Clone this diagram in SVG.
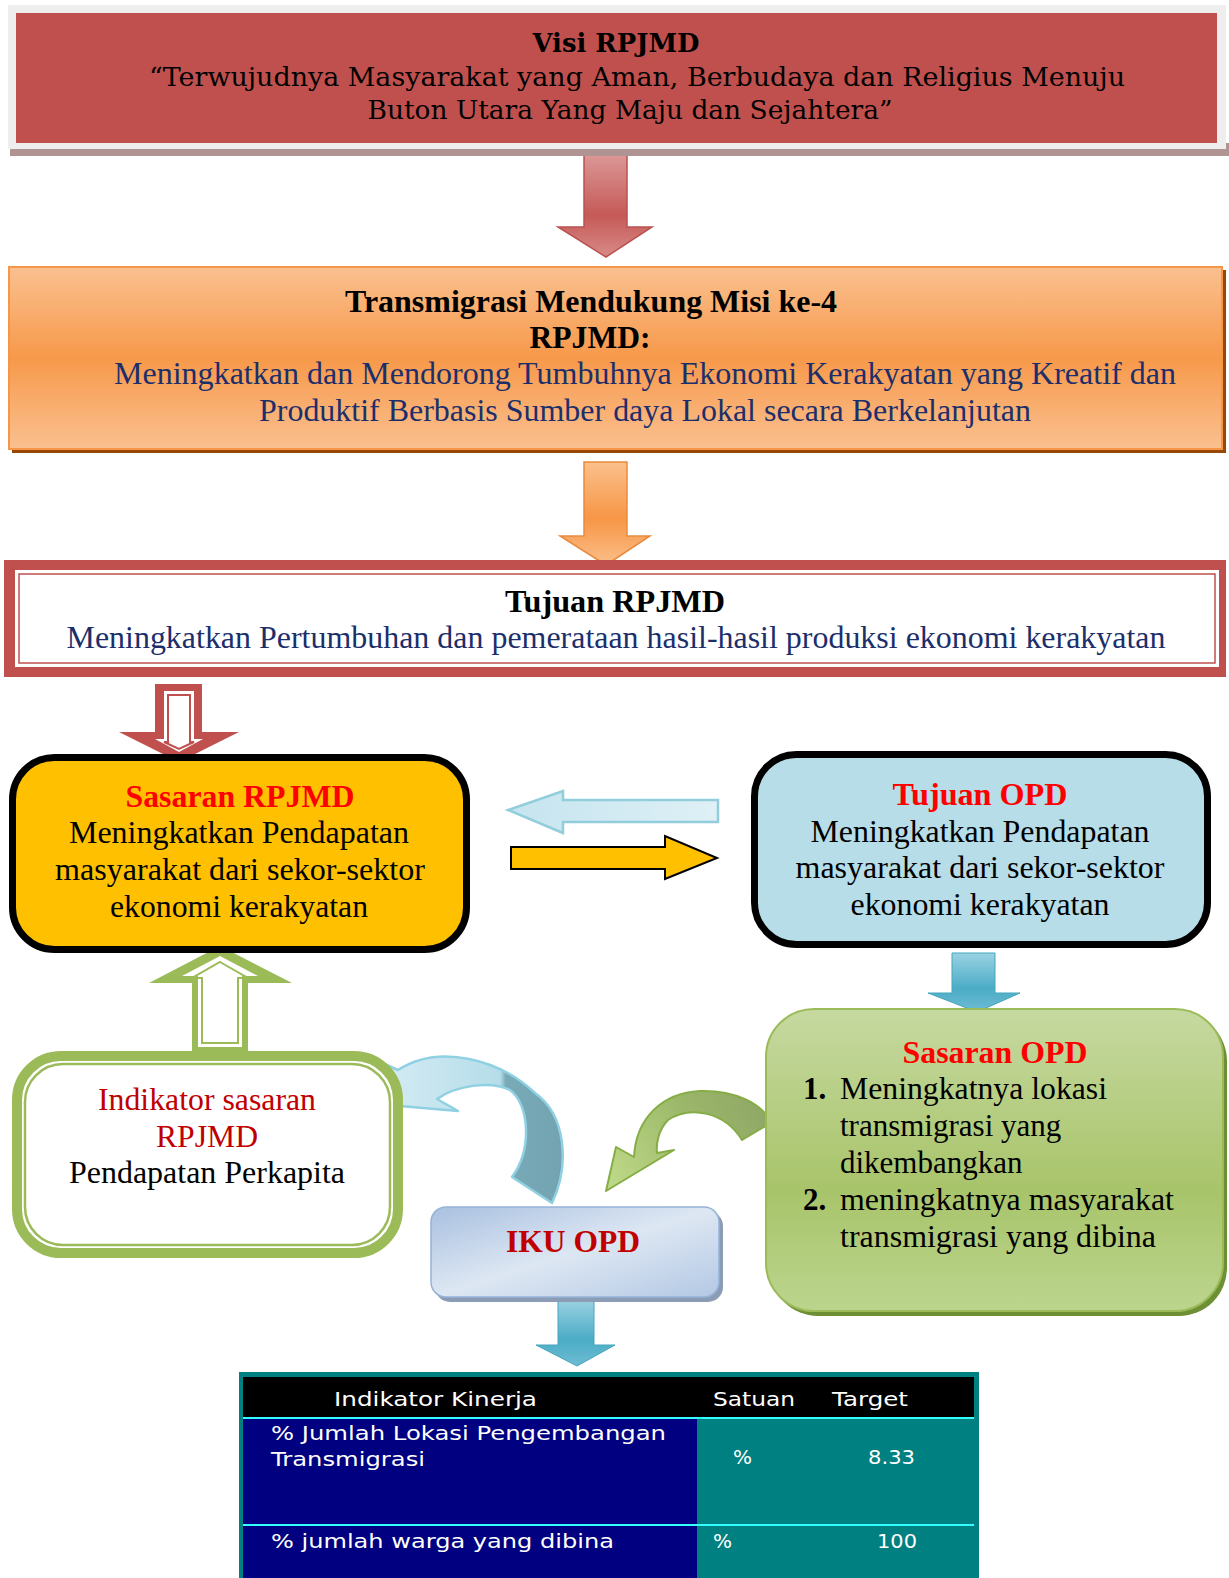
<svg xmlns="http://www.w3.org/2000/svg" width="1229" height="1578" viewBox="0 0 1229 1578">
<defs>
<style>
.serif{font-family:"Liberation Serif","Times New Roman",serif;}
.book{font-family:"DejaVu Serif","Liberation Serif",serif;}
.sans{font-family:"DejaVu Sans","Liberation Sans",sans-serif;fill:#ffffff;font-size:20px;}
.b{font-weight:bold;}
.navy{fill:#1c2f6b;}
.red{fill:#ff0000;}
.dred{fill:#c00000;}
.t30{font-size:31px;}
</style>
<linearGradient id="gOrange" x1="0" y1="0" x2="0" y2="1">
<stop offset="0" stop-color="#fac090"/><stop offset="0.5" stop-color="#f7994a"/><stop offset="1" stop-color="#fac090"/>
</linearGradient>
<linearGradient id="gRedArrow" x1="0" y1="0" x2="0" y2="1">
<stop offset="0" stop-color="#dc9998"/><stop offset="0.6" stop-color="#c55a57"/><stop offset="1" stop-color="#d88a88"/>
</linearGradient>
<linearGradient id="gOrArrow" x1="0" y1="0" x2="0" y2="1">
<stop offset="0" stop-color="#fbc08c"/><stop offset="0.55" stop-color="#f79646"/><stop offset="1" stop-color="#fbbf8a"/>
</linearGradient>
<linearGradient id="gBlueArrow" x1="0" y1="0" x2="0" y2="1">
<stop offset="0" stop-color="#9ad2e2"/><stop offset="0.6" stop-color="#4bacc6"/><stop offset="1" stop-color="#6dbcd2"/>
</linearGradient>
<linearGradient id="gLtBlue" x1="0" y1="0" x2="1" y2="0">
<stop offset="0" stop-color="#c5e4ef"/><stop offset="1" stop-color="#dff0f6"/>
</linearGradient>
<linearGradient id="gCurveBlue" x1="380" y1="0" x2="565" y2="0" gradientUnits="userSpaceOnUse">
<stop offset="0" stop-color="#d5ecf4"/><stop offset="0.65" stop-color="#b5dde9"/><stop offset="0.68" stop-color="#78aab7"/><stop offset="1" stop-color="#73a3b0"/>
</linearGradient>
<linearGradient id="gCurveGreen" x1="772" y1="1100" x2="605" y2="1188" gradientUnits="userSpaceOnUse">
<stop offset="0" stop-color="#8ea566"/><stop offset="0.45" stop-color="#9cb86a"/><stop offset="1" stop-color="#c0dc8a"/>
</linearGradient>
<linearGradient id="gGreenBox" x1="0" y1="0" x2="0" y2="1">
<stop offset="0" stop-color="#c6d9a0"/><stop offset="0.6" stop-color="#a8c46a"/><stop offset="1" stop-color="#bcd58e"/>
</linearGradient>
<linearGradient id="gIku" x1="0" y1="0" x2="1" y2="1">
<stop offset="0" stop-color="#a9c0e0"/><stop offset="0.5" stop-color="#dde7f3"/><stop offset="1" stop-color="#b3c8e4"/>
</linearGradient>
</defs>

<!-- connectors -->
<g id="connectors">
  <!-- Visi -> Misi -->
  <path d="M584,153 L627,153 L627,227 L652,227 L606,257 L558,227 L584,227 Z" fill="url(#gRedArrow)" stroke="#b9514e" stroke-width="1.5"/>
  <!-- Misi -> Tujuan RPJMD -->
  <path d="M584,462 L627,462 L627,536 L650,536 L606,565 L560,536 L584,536 Z" fill="url(#gOrArrow)" stroke="#e98a3c" stroke-width="1.5"/>
  <!-- Tujuan RPJMD -> Sasaran RPJMD (hollow) -->
  <path d="M155,684 L202,684 L202,732 L239,732 L179,762 L119,732 L155,732 Z" fill="#c0504d"/>
  <path d="M164,691 L194,691 L194,739 L203,739 L179,752 L155,739 L164,739 Z" fill="#ffffff"/>
  <path d="M168,695 L190,695 L190,742 L194,742 L179,749 L164,742 L168,742 Z" fill="none" stroke="#c0504d" stroke-width="2"/>
  <!-- Tujuan OPD -> Sasaran RPJMD (light blue, left) -->
  <path d="M718,800 L718,822 L563,822 L563,833 L508,810 L563,791 L563,800 Z" fill="url(#gLtBlue)" stroke="#92cddc" stroke-width="2.5"/>
  <!-- Sasaran RPJMD -> Tujuan OPD (yellow, right) -->
  <path d="M511,847 L665,847 L665,836 L717,858 L665,879 L665,869 L511,869 Z" fill="#ffc000" stroke="#000000" stroke-width="2"/>
  <!-- Tujuan OPD -> Sasaran OPD -->
  <path d="M952,953 L995,953 L995,993 L1020,993 L977,1012 L928,993 L952,993 Z" fill="url(#gBlueArrow)" stroke="#46a5bf" stroke-width="1"/>
  <!-- Indikator -> Sasaran RPJMD (hollow green, up) -->
  <path d="M220,946 L292,983 L248,983 L248,1052 L192,1052 L192,983 L149,983 Z" fill="#9bbb59"/>
  <path d="M220,956 L258,976 L242,976 L242,1047 L198,1047 L198,976 L182,976 Z" fill="#ffffff"/>
  <path d="M220,962 L248,978 L238,978 L238,1043 L202,1043 L202,978 L192,978 Z" fill="none" stroke="#9bbb59" stroke-width="2"/>
  <!-- IKU OPD -> Indikator (curved blue) -->
  <path d="M380,1062 L400,1106 L458,1111 L437,1099 C455,1086 490,1080 510,1090 C530,1105 532,1150 512,1177 L552,1203 C570,1165 566,1115 535,1093 C500,1060 440,1043 398,1070 Z" fill="url(#gCurveBlue)" stroke="#8fd0e2" stroke-width="2.5" stroke-linejoin="round"/>
  <!-- Sasaran OPD -> IKU OPD (curved green) -->
  <path d="M742,1140 C725,1112 690,1105 668,1120 C658,1130 656,1145 657,1153 L674,1150 L606,1191 L616,1147 L634,1157 C636,1118 662,1093 700,1091 C735,1090 760,1103 772,1122 Z" fill="url(#gCurveGreen)" stroke="#86ad45" stroke-width="2" stroke-linejoin="round"/>
  <!-- IKU OPD -> table -->
  <path d="M558,1300 L594,1300 L594,1345 L615,1345 L577,1366 L536,1345 L558,1345 Z" fill="url(#gBlueArrow)" stroke="#46a5bf" stroke-width="1"/>
</g>

<!-- Visi RPJMD -->
<g id="visi">
  <rect x="10" y="143" width="1219" height="13" fill="#b09393"/>
  <rect x="8" y="5" width="1218" height="144" fill="#eeeeee"/>
  <rect x="16" y="13" width="1201" height="130" fill="#c0504d"/>
  <text class="book b" x="616" y="52" font-size="26" text-anchor="middle" textLength="167" lengthAdjust="spacingAndGlyphs">Visi RPJMD</text>
  <text class="book" x="637" y="86" font-size="26" text-anchor="middle" textLength="976" lengthAdjust="spacingAndGlyphs">“Terwujudnya Masyarakat yang Aman, Berbudaya dan Religius Menuju</text>
  <text class="book" x="630" y="119" font-size="26" text-anchor="middle" textLength="525" lengthAdjust="spacingAndGlyphs">Buton Utara Yang Maju dan Sejahtera”</text>
</g>

<!-- Misi -->
<g id="misi">
  <rect x="12" y="270" width="1214" height="183" fill="#974706"/>
  <rect x="9" y="267" width="1213" height="182" fill="url(#gOrange)" stroke="#f79646" stroke-width="2"/>
  <text class="serif b t30" x="591" y="312" text-anchor="middle" textLength="492" lengthAdjust="spacingAndGlyphs">Transmigrasi Mendukung Misi ke-4</text>
  <text class="serif b t30" x="590" y="348" text-anchor="middle" textLength="121" lengthAdjust="spacingAndGlyphs">RPJMD:</text>
  <text class="serif navy t30" x="645" y="384" text-anchor="middle" textLength="1062" lengthAdjust="spacingAndGlyphs">Meningkatkan dan Mendorong Tumbuhnya Ekonomi Kerakyatan yang Kreatif dan</text>
  <text class="serif navy t30" x="645" y="421" text-anchor="middle" textLength="772" lengthAdjust="spacingAndGlyphs">Produktif Berbasis Sumber daya Lokal secara Berkelanjutan</text>
</g>

<!-- Tujuan RPJMD -->
<g id="tujuan-rpjmd">
  <rect x="4" y="560" width="1222" height="117" fill="#c0504d"/>
  <rect x="15" y="570" width="1204" height="97" fill="#ffffff"/>
  <rect x="19" y="574" width="1196" height="89" fill="none" stroke="#c0504d" stroke-width="1.5"/>
  <text class="serif b t30" x="615" y="612" text-anchor="middle" textLength="220" lengthAdjust="spacingAndGlyphs">Tujuan RPJMD</text>
  <text class="serif navy t30" x="616" y="648" text-anchor="middle" textLength="1099" lengthAdjust="spacingAndGlyphs">Meningkatkan Pertumbuhan dan pemerataan hasil-hasil produksi ekonomi kerakyatan</text>
</g>

<!-- Sasaran RPJMD -->
<g id="sasaran-rpjmd">
  <rect x="12.5" y="757.5" width="454" height="192" rx="42" fill="#ffc000" stroke="#000000" stroke-width="7"/>
  <text class="serif b t30 red" x="240" y="807" text-anchor="middle" textLength="229" lengthAdjust="spacingAndGlyphs">Sasaran RPJMD</text>
  <text class="serif t30" x="239" y="843" text-anchor="middle" textLength="340" lengthAdjust="spacingAndGlyphs">Meningkatkan Pendapatan</text>
  <text class="serif t30" x="240" y="880" text-anchor="middle" textLength="370" lengthAdjust="spacingAndGlyphs">masyarakat dari sekor-sektor</text>
  <text class="serif t30" x="239" y="917" text-anchor="middle" textLength="258" lengthAdjust="spacingAndGlyphs">ekonomi kerakyatan</text>
</g>

<!-- Tujuan OPD -->
<g id="tujuan-opd">
  <rect x="754.5" y="754.5" width="453" height="190" rx="42" fill="#b7dde8" stroke="#000000" stroke-width="7"/>
  <text class="serif b t30 red" x="980" y="805" text-anchor="middle" textLength="175" lengthAdjust="spacingAndGlyphs">Tujuan OPD</text>
  <text class="serif t30" x="980" y="842" text-anchor="middle" textLength="339" lengthAdjust="spacingAndGlyphs">Meningkatkan Pendapatan</text>
  <text class="serif t30" x="980" y="878" text-anchor="middle" textLength="369" lengthAdjust="spacingAndGlyphs">masyarakat dari sekor-sektor</text>
  <text class="serif t30" x="980" y="915" text-anchor="middle" textLength="259" lengthAdjust="spacingAndGlyphs">ekonomi kerakyatan</text>
</g>

<!-- Indikator sasaran RPJMD -->
<g id="indikator">
  <rect x="17" y="1056" width="381" height="197" rx="44" fill="#ffffff" stroke="#9bbb59" stroke-width="10"/>
  <rect x="25" y="1064" width="365" height="181" rx="38" fill="none" stroke="#9bbb59" stroke-width="2.5"/>
  <text class="serif t30 dred" x="207" y="1110" text-anchor="middle" textLength="218" lengthAdjust="spacingAndGlyphs">Indikator sasaran</text>
  <text class="serif t30 dred" x="207" y="1147" text-anchor="middle" textLength="102" lengthAdjust="spacingAndGlyphs">RPJMD</text>
  <text class="serif t30" x="207" y="1183" text-anchor="middle" textLength="276" lengthAdjust="spacingAndGlyphs">Pendapatan Perkapita</text>
</g>

<!-- IKU OPD -->
<g id="iku-opd">
  <rect x="435" y="1211" width="288" height="91" rx="15" fill="#8c9cb4"/>
  <rect x="431" y="1207" width="288" height="90" rx="15" fill="url(#gIku)" stroke="#95b3d7" stroke-width="1.5"/>
  <text class="serif b t30 dred" x="573" y="1252" text-anchor="middle" textLength="134" lengthAdjust="spacingAndGlyphs">IKU OPD</text>
</g>

<!-- Sasaran OPD -->
<g id="sasaran-opd">
  <rect x="770" y="1013" width="457" height="303" rx="48" fill="#6f8f35"/>
  <rect x="766" y="1009" width="457" height="302" rx="48" fill="url(#gGreenBox)" stroke="#9bbb59" stroke-width="2"/>
  <text class="serif b t30 red" x="995" y="1063" text-anchor="middle" textLength="185" lengthAdjust="spacingAndGlyphs">Sasaran OPD</text>
  <text class="serif b t30" x="803" y="1099">1.</text>
  <text class="serif t30" x="840" y="1099" textLength="267" lengthAdjust="spacingAndGlyphs">Meningkatnya lokasi</text>
  <text class="serif t30" x="840" y="1136">transmigrasi yang</text>
  <text class="serif t30" x="840" y="1173">dikembangkan</text>
  <text class="serif b t30" x="803" y="1210">2.</text>
  <text class="serif t30" x="840" y="1210" textLength="334" lengthAdjust="spacingAndGlyphs">meningkatnya masyarakat</text>
  <text class="serif t30" x="840" y="1247" textLength="316" lengthAdjust="spacingAndGlyphs">transmigrasi yang dibina</text>
</g>

<!-- Table -->
<g id="tabel">
  <rect x="239" y="1372" width="740" height="210" fill="#008080"/>
  <rect x="243" y="1377" width="731" height="40" fill="#000000"/>
  <rect x="243" y="1417" width="731" height="2" fill="#33ffff"/>
  <rect x="243" y="1419" width="454" height="105" fill="#000080"/>
  <rect x="697" y="1419" width="277" height="105" fill="#008080"/>
  <rect x="243" y="1524" width="731" height="2" fill="#33ffff"/>
  <rect x="243" y="1526" width="454" height="56" fill="#000080"/>
  <rect x="697" y="1526" width="277" height="56" fill="#008080"/>
  <text class="sans" x="334" y="1406" textLength="203" lengthAdjust="spacingAndGlyphs">Indikator Kinerja</text>
  <text class="sans" x="713" y="1406" textLength="82" lengthAdjust="spacingAndGlyphs">Satuan</text>
  <text class="sans" x="832" y="1406" textLength="76" lengthAdjust="spacingAndGlyphs">Target</text>
  <text class="sans" x="271" y="1440" textLength="395" lengthAdjust="spacingAndGlyphs">% Jumlah Lokasi Pengembangan</text>
  <text class="sans" x="271" y="1466" textLength="154" lengthAdjust="spacingAndGlyphs">Transmigrasi</text>
  <text class="sans" x="733" y="1464">%</text>
  <text class="sans" x="868" y="1464" textLength="47" lengthAdjust="spacingAndGlyphs">8.33</text>
  <text class="sans" x="271" y="1548" textLength="343" lengthAdjust="spacingAndGlyphs">% jumlah warga yang dibina</text>
  <text class="sans" x="713" y="1548">%</text>
  <text class="sans" x="877" y="1548" textLength="40" lengthAdjust="spacingAndGlyphs">100</text>
</g>
</svg>
